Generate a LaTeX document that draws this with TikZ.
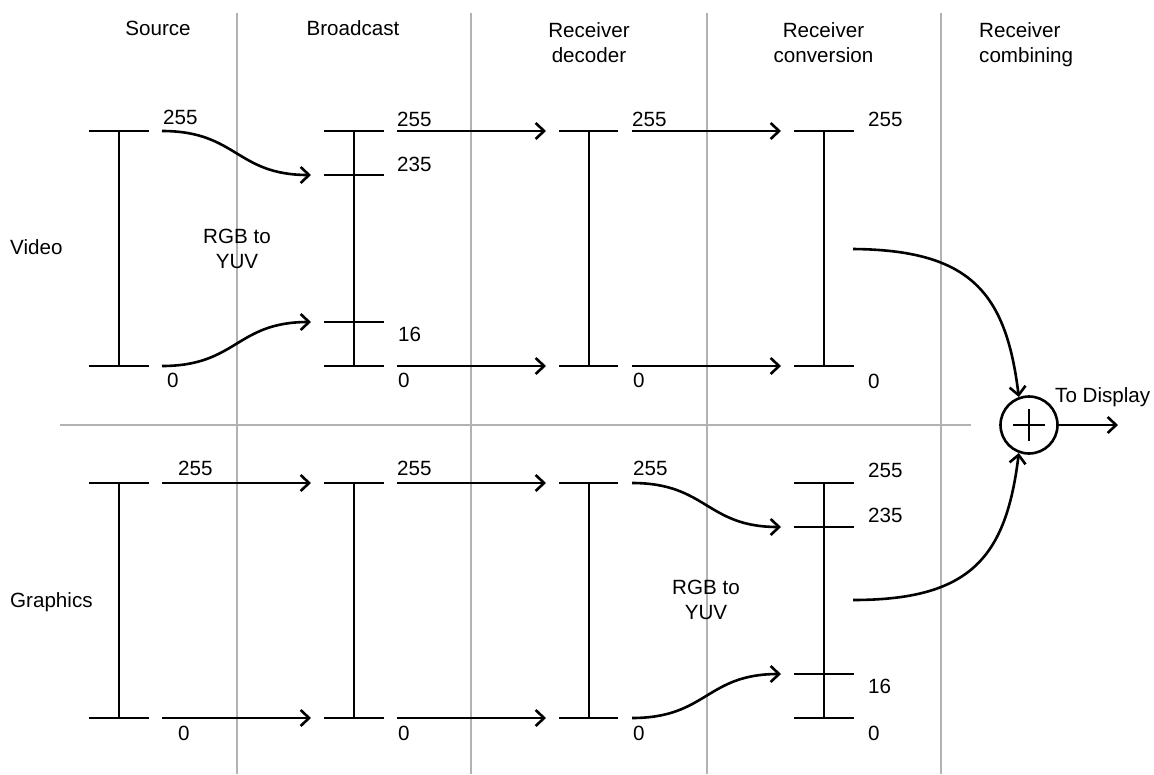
\documentclass[tikz,border=0pt]{standalone}
\usepackage{fontspec}
\setmainfont{Liberation Sans}
\usetikzlibrary{arrows.meta}
\begin{document}
\begin{tikzpicture}[x=1pt,y=-1pt,
  every node/.style={inner sep=0pt, font=\fontsize{20.6}{25}\selectfont},
  bar/.style={line width=2.6pt, black},
  conn/.style={line width=2.6pt, black, -{Straight Barb[length=8.5pt,width=16pt,line width=2.6pt]}},
  divider/.style={line width=2pt, black!30},
  lbl/.style={anchor=base west},
  hdr/.style={anchor=base, align=center},
  sumnode/.style={circle, draw, line width=2.6pt, minimum size=57pt},
]
\useasboundingbox (0,0) rectangle (1154,774);

% dividers
\draw[divider] (237,13) -- (237,774);
\draw[divider] (471,13) -- (471,774);
\draw[divider] (707,13) -- (707,774);
\draw[divider] (941,13) -- (941,774);
\draw[divider] (60,425) -- (971,425);

% headers
\node[hdr] (hsrc) at (158,35) {Source};
\node[hdr] (hbc) at (353,35) {Broadcast};
\node[hdr] (hdec) at (589,62) {Receiver\\decoder};
\node[hdr] (hconv) at (823.5,62) {Receiver\\conversion};
\node[anchor=base west, align=left] (hcomb) at (979,62) {Receiver\\combining};

% row labels
\node[lbl] (lvideo) at (10,254) {Video};
\node[lbl] (lgraphics) at (10,607) {Graphics};
\node[hdr] (rgb1) at (237,268) {RGB to\\YUV};
\node[hdr] (rgb2) at (706,619) {RGB to\\YUV};

% ===== Video bars =====
\draw[bar] (89,131) -- (149,131) (89,366) -- (149,366) (119,131) -- (119,366);
\draw[bar] (324,131) -- (384,131) (324,175) -- (384,175) (324,322) -- (384,322) (324,366) -- (384,366) (354,131) -- (354,366);
\draw[bar] (559,131) -- (618,131) (559,366) -- (618,366) (589,131) -- (589,366);
\draw[bar] (794,131) -- (854,131) (794,366) -- (854,366) (824,131) -- (824,366);

% ===== Graphics bars =====
\draw[bar] (89,483) -- (149,483) (89,718) -- (149,718) (119,483) -- (119,718);
\draw[bar] (324,483) -- (384,483) (324,718) -- (384,718) (354,483) -- (354,718);
\draw[bar] (559,483) -- (618,483) (559,718) -- (618,718) (589,483) -- (589,718);
\draw[bar] (794,483) -- (854,483) (794,527) -- (854,527) (794,674) -- (854,674) (794,718) -- (854,718) (824,483) -- (824,718);

% connector end points
\coordinate (vsTo) at (162,131); \coordinate (vsBo) at (162,366);
\coordinate (vbTi) at (311,175); \coordinate (vbBi) at (311,322);
\coordinate (vbTo) at (397,131); \coordinate (vbBo) at (397,366);
\coordinate (vdTi) at (546,131); \coordinate (vdBi) at (546,366);
\coordinate (vdTo) at (632,131); \coordinate (vdBo) at (632,366);
\coordinate (vcTi) at (781,131); \coordinate (vcBi) at (781,366);
\coordinate (vcOut) at (853,249);

\coordinate (gsTo) at (162,483); \coordinate (gsBo) at (162,718);
\coordinate (gbTi) at (311,483); \coordinate (gbBi) at (311,718);
\coordinate (gbTo) at (397,483); \coordinate (gbBo) at (397,718);
\coordinate (gdTi) at (546,483); \coordinate (gdBi) at (546,718);
\coordinate (gdTo) at (632,483); \coordinate (gdBo) at (632,718);
\coordinate (gcTi) at (781,527); \coordinate (gcBi) at (781,674);
\coordinate (gcOut) at (853,600);

% sum node
\node[sumnode] (sum) at (1029,425) {};
\draw[line width=2.2pt] ([xshift=-16pt]sum.center) -- ([xshift=16pt]sum.center)
  ([yshift=-16pt]sum.center) -- ([yshift=16pt]sum.center);
\coordinate (disp) at (1118,425);
\node[lbl] (todisp) at (1055,402) {To Display};

% video connectors
\draw[conn] (vsTo) .. controls +(75,0) and +(-75,0) .. (vbTi);
\draw[conn] (vsBo) .. controls +(75,0) and +(-75,0) .. (vbBi);
\draw[conn] (vbTo) -- (vdTi);
\draw[conn] (vbBo) -- (vdBi);
\draw[conn] (vdTo) -- (vcTi);
\draw[conn] (vdBo) -- (vcBi);
\draw[conn] (vcOut) .. controls (970,250) and (1006,292) .. (sum.110);

% graphics connectors
\draw[conn] (gsTo) -- (gbTi);
\draw[conn] (gsBo) -- (gbBi);
\draw[conn] (gbTo) -- (gdTi);
\draw[conn] (gbBo) -- (gdBi);
\draw[conn] (gdTo) .. controls +(75,0) and +(-75,0) .. (gcTi);
\draw[conn] (gdBo) .. controls +(75,0) and +(-75,0) .. (gcBi);
\draw[conn] (gcOut) .. controls (970,600) and (1006,558) .. (sum.250);

\draw[conn] (sum.east) -- (disp);

% video labels
\node[lbl] (vs255) at (163,124) {255};
\node[lbl] (vs0) at (167,387) {0};
\node[lbl] (vb255) at (397,126) {255};
\node[lbl] (vb235) at (397,171) {235};
\node[lbl] (vb16) at (398,341) {16};
\node[lbl] (vb0) at (398,387) {0};
\node[lbl] (vd255) at (632,126) {255};
\node[lbl] (vd0) at (633,387) {0};
\node[lbl] (vc255) at (868,126) {255};
\node[lbl] (vc0) at (868,388) {0};

% graphics labels
\node[lbl] (gs255) at (178,475) {255};
\node[lbl] (gs0) at (178,740) {0};
\node[lbl] (gb255) at (397,475) {255};
\node[lbl] (gb0) at (398,740) {0};
\node[lbl] (gd255) at (633,475) {255};
\node[lbl] (gd0) at (633,740) {0};
\node[lbl] (gc255) at (868,477) {255};
\node[lbl] (gc235) at (868,522) {235};
\node[lbl] (gc16) at (868,693) {16};
\node[lbl] (gc0) at (868,740) {0};
\end{tikzpicture}
\end{document}
